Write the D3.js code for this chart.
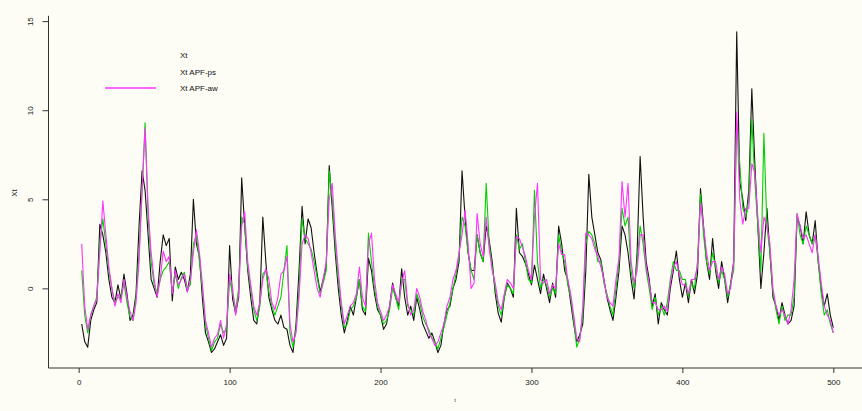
<!DOCTYPE html>
<html>
<head>
<meta charset="utf-8">
<script src="https://cdn.jsdelivr.net/npm/d3@7"></script>
<style>
    body { margin: 0; background: #fdfdf5; }
    svg { display: block; font-family: "Liberation Sans", Arial, sans-serif; }
</style>
</head>
<body>
<svg id="chart" width="862" height="411"></svg>
<script>
// values, one every 2 time steps (t = 2, 4, ... 500)
const xt = [
    -2.0, -3.0, -3.3, -1.8, -1.2, -0.8, 3.6, 3.0, 2.0, 0.5,
    -0.5, -0.8, 0.2, -0.6, 0.8, -0.3, -1.8, -1.5, -0.3, 3.5,
    6.6, 5.5, 3.0, 0.5, 0.0, -0.5, 1.5, 3.0, 2.4, 2.8,
    -0.7, 1.2, 0.5, 0.9, 0.5, -0.2, 0.8, 5.0, 2.5, 1.8,
    -0.6, -2.5, -3.0, -3.6, -3.4, -3.0, -2.6, -3.2, -2.8, 2.4,
    -0.6, -1.4, -0.5, 6.2, 3.5, 1.0, -0.5, -1.8, -2.0, -0.8,
    4.0, 1.5, -0.5, -1.2, -1.8, -2.0, -1.5, -2.2, -2.3, -3.2,
    -3.6, -2.0, 1.0, 4.6, 2.5, 3.9, 3.4, 2.0, 0.8, -0.2,
    0.5, 1.2, 6.9, 4.5, 2.0, 0.0, -1.5, -2.5, -1.8, -1.0,
    -1.5, -0.5, 0.5, -1.2, -1.5, 1.7, 1.0, -0.3, -1.2, -1.5,
    -2.3, -2.0, -1.0, 0.3, -0.5, -1.0, 1.1, -0.5, -1.5, -1.0,
    -1.8, -0.5, -1.2, -2.0, -2.4, -2.8, -2.5, -3.0, -3.6, -3.2,
    -2.0, -1.2, -1.0, 0.0, 0.5, 1.5, 6.6, 4.0, 2.0, 1.0,
    1.0, 3.0, 2.0, 1.5, 3.5, 2.7, 1.5, -0.3, -1.4, -1.9,
    -0.5, 0.3, 0.0, -0.5, 4.5, 2.0, 1.8, 1.4, 0.8, 0.2,
    1.3, 0.5, -0.3, 0.8, 0.0, -0.8, 0.3, -0.5, 3.5, 2.5,
    1.0, 0.5, -0.8, -2.0, -3.0, -2.6, -2.0, 1.0, 6.4, 4.0,
    3.0, 2.0, 1.6, 0.5, -0.5, -1.2, -1.8, -0.5, 1.0, 3.5,
    3.0, 2.0, 0.5, -0.6, 2.0, 7.4, 4.0, 1.5, 0.5, -1.0,
    -0.3, -2.0, -0.8, -1.2, -1.5, 0.0, 1.0, 2.1, 0.5, -0.5,
    0.3, -0.8, 0.5, -0.3, 0.8, 5.6, 3.5, 1.5, 0.5, 2.8,
    1.0, 0.0, 1.5, 0.5, -0.8, 0.3, 1.5, 14.4, 6.0, 5.0,
    3.8, 5.5, 11.2, 7.0, 3.5, 0.0, 2.0, 4.5, 2.0, -0.5,
    -1.0, -1.8, -0.8, -1.5, -2.0, -1.8, -1.0, 4.0, 3.5, 2.5,
    4.3, 3.0, 2.5, 3.8, 1.5, 0.0, -1.0, -0.3, -1.5, -2.2
];

const apfPs = [
    1.0, -1.5, -2.5, -1.5, -1.0, -0.5, 2.5, 3.9, 2.5, 1.0,
    0.0, -0.8, -0.5, -0.5, 0.3, -0.8, -1.6, -1.8, -0.5, 2.0,
    5.5, 9.3, 4.0, 1.5, 0.2, -0.3, 0.5, 1.0, 1.2, 1.5,
    -0.2, 0.8, 0.0, 0.6, 0.9, 0.0, 0.2, 2.5, 3.0, 1.5,
    0.0, -2.0, -2.8, -3.5, -3.0, -2.8, -2.0, -2.5, -2.3, 0.5,
    -0.3, -1.2, 0.0, 4.0, 3.6, 1.2, 0.0, -1.2, -1.8, -1.0,
    0.8, 1.0, -0.2, -1.0, -1.5, -1.0, -0.5, 1.0, 2.4, -2.5,
    -3.3, -2.3, 0.0, 3.9, 2.8, 2.5, 2.2, 1.5, 0.6, -0.3,
    0.3, 1.0, 6.6, 5.0, 2.5, 0.5, -1.0, -2.2, -2.0, -1.2,
    -1.0, -0.5, 0.5, -1.0, -1.3, 3.1, 1.5, 0.0, -1.0, -1.5,
    -2.0, -1.8, -1.2, 0.0, -0.5, -1.2, 0.5, 0.5, -1.0, -1.2,
    -1.5, -0.3, -0.8, -1.6, -2.0, -2.3, -2.8, -3.0, -3.4, -2.8,
    -2.2, -1.5, -0.8, 0.0, 0.8, 1.8, 4.0, 3.5, 2.0, 1.0,
    0.5, 3.0, 2.0, 1.5, 5.9, 2.5, 1.2, 0.0, -1.0, -1.5,
    -0.5, 0.2, 0.0, -0.3, 3.0, 2.2, 2.5, 1.5, 0.5, 0.3,
    5.5, 1.5, 0.0, 0.5, 0.2, -0.5, 0.0, -0.3, 3.0, 2.0,
    1.5, 0.2, -0.5, -1.8, -3.3, -2.8, -1.5, 2.5, 3.2, 3.0,
    2.5, 1.5, 1.5, 0.3, -0.3, -1.0, -1.5, 0.0, 1.5, 4.5,
    3.5, 4.0, 1.0, 0.0, 1.5, 3.5, 2.5, 1.0, 0.0, -1.2,
    -0.5, -1.5, -1.0, -1.5, -0.8, 0.5, 1.5, 1.0, 1.0, 0.5,
    0.5, -0.5, 0.3, 0.0, 1.5, 5.3, 3.0, 1.5, 0.8, 2.0,
    1.2, 0.3, 1.0, 0.5, -0.5, 0.3, 1.0, 9.4, 7.0, 4.5,
    4.0, 5.0, 9.5, 6.0, 3.5, 1.0, 8.7, 3.5, 2.0, -0.2,
    -1.2, -2.0, -1.0, -1.8, -1.5, -1.5, -0.5, 4.2, 3.0, 2.5,
    3.5, 3.0, 2.5, 3.0, 1.5, -0.3, -1.5, -1.2, -2.0, -2.5
];

const apfAw = [
    2.5, -1.0, -2.3, -1.5, -1.0, -0.6, 2.0, 4.9, 3.0, 1.2,
    0.0, -1.0, -0.3, -0.8, 0.5, -0.5, -1.3, -1.8, -0.8, 1.5,
    5.5, 9.0, 4.5, 2.0, 0.5, -0.5, 0.5, 2.1, 1.5, 1.8,
    -0.3, 1.0, 0.2, 0.5, 0.8, -0.2, 0.5, 2.0, 3.3, 2.0,
    0.2, -1.8, -2.5, -3.3, -2.8, -2.6, -1.8, -2.8, -2.0, 0.8,
    0.0, -1.5, -0.3, 3.5, 4.3, 1.5, 0.2, -1.0, -1.5, -0.8,
    0.5, 1.1, 0.5, -0.8, -1.2, -0.5, 0.8, 1.0, 1.8, -2.0,
    -3.0, -2.5, -0.5, 2.5, 3.0, 2.8, 2.0, 1.0, 0.0, -0.5,
    0.5, 1.5, 5.0, 5.9, 3.0, 1.0, -0.8, -2.0, -1.5, -1.0,
    -0.8, -0.3, 1.2, -0.5, -1.0, 2.5, 3.1, 0.5, -0.8, -1.3,
    -1.8, -1.5, -1.0, 0.2, -0.3, -0.8, 0.3, 1.0, -0.8, -1.5,
    -1.2, 0.0, -0.5, -1.3, -1.8, -2.5, -2.8, -3.2, -3.0, -2.5,
    -2.0, -1.0, -0.5, 0.5, 1.0, 2.0, 3.0, 4.4, 2.5, 0.0,
    0.3, 4.2, 2.5, 1.8, 4.0, 2.2, 1.0, 0.3, -0.8, -1.2,
    -0.3, 0.5, 0.3, 0.0, 2.9, 2.8, 2.3, 1.8, 1.0, 0.5,
    4.0, 5.9, 0.5, 0.3, 0.5, -0.3, 0.2, 0.0, 2.5, 1.9,
    1.9, 0.5, -0.3, -1.5, -2.8, -3.0, -1.0, 3.1, 3.0, 2.8,
    2.2, 1.8, 1.2, 0.5, -0.5, -0.8, -1.0, 0.5, 1.7, 6.0,
    4.0, 5.9, 1.5, 0.3, 1.0, 3.0, 3.0, 1.2, 0.3, -0.8,
    -0.8, -1.2, -1.2, -1.0, -1.3, 0.3, 1.2, 1.5, 0.8, 0.2,
    0.2, -0.3, 0.5, 0.5, 1.2, 4.8, 3.5, 2.0, 1.0, 1.5,
    1.5, 0.5, 1.2, 0.8, -0.3, 0.0, 1.5, 9.9, 5.0, 3.6,
    4.5, 4.5, 7.0, 6.5, 4.0, 2.0, 4.0, 3.5, 2.5, 0.0,
    -1.0, -1.5, -1.2, -1.5, -2.0, -1.2, 0.5, 4.2, 3.5, 2.8,
    3.0, 2.5, 2.0, 3.0, 1.8, 0.3, -1.0, -1.5, -1.8, -2.5
];

const times = d3.range(2, 501, 2);
const xTicks = [0, 100, 200, 300, 400, 500];
const yTicks = [0, 5, 10, 15];
const seriesNames = ["Xt", "Xt APF-ps", "Xt APF-aw"];
const seriesColors = ["#111111", "#00d000", "#ff33ff"];

const svg = d3.select("#chart");

svg.append("rect")
    .attr("width", 862)
    .attr("height", 411)
    .attr("fill", "#fdfdf5");

const x = d3.scaleLinear().domain([-20, 520]).range([48.5, 863.5]);
const y = d3.scaleLinear().domain([-4.47, 15.12]).range([368, 19]);

const line = d3.line()
    .x((d, i) => x(times[i]))
    .y(d => y(d));

[xt, apfPs, apfAw].forEach((s, k) => {
    svg.append("path")
        .datum(s)
        .attr("fill", "none")
        .attr("stroke", seriesColors[k])
        .attr("stroke-width", 1.1)
        .attr("stroke-linejoin", "round")
        .attr("d", line);
});

// L-shaped frame
svg.append("path")
    .attr("d", `M${x.range()[0]},${y(15.3)}V${y.range()[0]}H${x.range()[1]}`)
    .attr("fill", "none")
    .attr("stroke", "#333")
    .attr("stroke-width", 1);

const xAxis = svg.append("g")
    .attr("transform", `translate(0, ${y.range()[0]})`)
    .call(d3.axisBottom(x).tickValues(xTicks).tickSize(5).tickPadding(6).tickFormat(d3.format("d")));

const yAxis = svg.append("g")
    .attr("transform", `translate(${x.range()[0]}, 0)`)
    .call(d3.axisLeft(y).tickValues(yTicks).tickSize(6).tickFormat(d3.format("d")));

[xAxis, yAxis].forEach(a => {
    a.select(".domain").remove();
    a.selectAll("line").attr("stroke", "#333");
    a.selectAll("text")
        .attr("fill", "#222")
        .style("font-size", "8px")
        .style("font-family", "'Liberation Sans', Arial, sans-serif");
});

yAxis.selectAll("text")
    .attr("transform", "rotate(-90)")
    .attr("x", 0)
    .attr("y", -16)
    .attr("dy", "0")
    .attr("text-anchor", "middle");

svg.append("text")
    .attr("x", 455)
    .attr("y", 402)
    .attr("text-anchor", "middle")
    .style("font-size", "6px")
    .attr("fill", "#444")
    .text("t");

svg.append("text")
    .attr("transform", "translate(17, 193) rotate(-90)")
    .attr("text-anchor", "middle")
    .style("font-size", "8px")
    .attr("fill", "#222")
    .text("Xt");

// legend, no box; only the last key line shows in the picture
const legend = svg.append("g");
const legendY = [55, 72, 88];

legend.selectAll("text")
    .data(seriesNames)
    .join("text")
    .attr("x", 180)
    .attr("y", (d, i) => legendY[i])
    .attr("dy", "0.35em")
    .style("font-size", "8px")
    .attr("fill", "#111")
    .text(d => d);

legend.append("line")
    .attr("x1", 105)
    .attr("x2", 156)
    .attr("y1", legendY[2])
    .attr("y2", legendY[2])
    .attr("stroke", seriesColors[2])
    .attr("stroke-width", 1.5);
</script>
</body>
</html>
